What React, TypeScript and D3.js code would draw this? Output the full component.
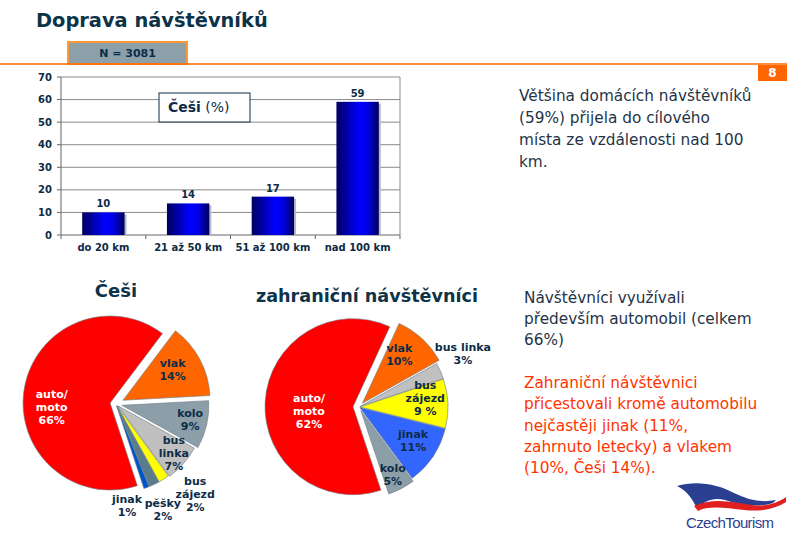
import * as d3 from 'd3';

// bar chart: Češi – vzdálenost
const barCategories = ['do 20 km', '21 až 50 km', '51 až 100 km', 'nad 100 km'];
const barValues = [10, 14, 17, 59];
const yTickValues = [0, 10, 20, 30, 40, 50, 60, 70];

// pie: Češi
const czNames = [['vlak'], ['kolo'], ['bus', 'linka'], ['bus', 'zájezd'], ['pěšky'], ['jinak'], ['auto/', 'moto']];
const czValues = [14, 9, 7, 2, 2, 1, 66];
const czPct = ['14%', '9%', '7%', '2%', '2%', '1%', '66%'];
const czColors = ['#FF6600', '#8C9EA8', '#C0C0C0', '#FFFF00', '#5B7C8A', '#0055CC', '#FF0000'];

// pie: zahraniční návštěvníci
const fgNames = [['vlak'], ['bus linka'], ['bus', 'zájezd'], ['jinak'], ['kolo'], ['auto/', 'moto']];
const fgValues = [10, 3, 9, 11, 5, 62];
const fgPct = ['10%', '3%', '9 %', '11%', '5%', '62%'];
const fgColors = ['#FF6600', '#C0C0C0', '#FFFF00', '#3366FF', '#8C9EA8', '#FF0000'];

const navy = '#0D2C47';
const font = 'DejaVu Sans, Verdana, sans-serif';

function Pie({ cx, cy, r, startDeg, values, colors, names, pcts, explode, labelR, labelTurn, whiteLast }: any) {
  const start = (startDeg * Math.PI) / 180;
  const arcs = d3.pie<number>().sort(null).value((d) => d).startAngle(start).endAngle(start + 2 * Math.PI)(values);
  const arc = d3.arc<d3.PieArcDatum<number>>().innerRadius(0).outerRadius(r);
  const lh = 13;
  return (
    <g transform={`translate(${cx},${cy})`}>
      {arcs.map((a, i) => {
        const mid = (a.startAngle + a.endAngle) / 2;
        const dx = Math.sin(mid) * explode[i];
        const dy = -Math.cos(mid) * explode[i];
        return (
          <path key={i} d={arc(a) ?? ''} transform={`translate(${dx},${dy})`} fill={colors[i]} stroke="#6b7a84" strokeWidth={0.6} strokeLinejoin="round" />
        );
      })}
      {arcs.map((a, i) => {
        const ang = (a.startAngle + a.endAngle) / 2 + (labelTurn[i] * Math.PI) / 180;
        const rr = labelR[i] * r;
        const x = Math.sin(ang) * rr;
        const y = -Math.cos(ang) * rr;
        const lines = [...names[i], pcts[i]];
        const y0 = y - ((lines.length - 1) * lh) / 2 + 4;
        const white = whiteLast && i === arcs.length - 1;
        return (
          <text key={i} textAnchor="middle" fontSize={11} fontWeight="bold" fontFamily={font} fill={white ? '#fff' : navy}>
            {lines.map((l, j) => (
              <tspan key={j} x={x} y={y0 + j * lh}>{l}</tspan>
            ))}
          </text>
        );
      })}
    </g>
  );
}

export default function App() {
  const x = d3.scaleBand().domain(barCategories).range([61, 400]).paddingInner(0.5).paddingOuter(0.25);
  const y = d3.scaleLinear().domain([0, 70]).range([235, 77]);
  const step = x.step();
  const bounds = d3.range(barCategories.length + 1).map((i) => 61 + i * step);

  return (
    <svg width={787} height={547} style={{ position: 'absolute', left: 0, top: 0, background: '#fff' }} fontFamily={font}>
      <defs>
        <linearGradient id="barGrad" x1="0" x2="1" y1="0" y2="0">
          <stop offset="0%" stopColor="#000060" />
          <stop offset="55%" stopColor="#0000FF" />
          <stop offset="75%" stopColor="#0000E0" />
          <stop offset="100%" stopColor="#000058" />
        </linearGradient>
      </defs>

      {/* header */}
      <text x={36} y={27} fontSize={19.4} fontWeight="bold" fill="#0D3349">Doprava návštěvníků</text>
      <rect x={68} y={42} width={119} height={22} fill="#8CA0AA" stroke="#FF9933" strokeWidth={2} />
      <text x={127.5} y={57} textAnchor="middle" fontSize={11} fontWeight="bold" fill={navy}>N = 3081</text>
      <line x1={0} x2={787} y1={64} y2={64} stroke="#FF6600" strokeWidth={1.5} />
      <rect x={758} y={65} width={29} height={16} fill="#FF6600" />
      <text x={772.5} y={77} textAnchor="middle" fontSize={12} fontWeight="bold" fill="#fff">8</text>

      {/* bar chart */}
      {yTickValues.map((t) => (
        <g key={t}>
          {t > 0 && <line x1={61} x2={400} y1={y(t)} y2={y(t)} stroke="#8a8a8a" strokeWidth={1} />}
          <line x1={57} x2={61} y1={y(t)} y2={y(t)} stroke="#666" />
          <text x={52} y={y(t) + 3.5} textAnchor="end" fontSize={10} fontWeight="bold" fill={navy}>{t}</text>
        </g>
      ))}
      <line x1={400} x2={400} y1={y(70)} y2={y(0)} stroke="#8a8a8a" />
      <line x1={61} x2={61} y1={y(70)} y2={y(0)} stroke="#666" />
      <line x1={61} x2={400} y1={y(0)} y2={y(0)} stroke="#666" />
      {bounds.map((b, i) => (
        <line key={i} x1={b} x2={b} y1={y(0)} y2={y(0) + 4} stroke="#666" />
      ))}
      {barCategories.map((c, i) => (
        <g key={c}>
          <rect x={x(c)! + 2} y={y(barValues[i]) + 2} width={x.bandwidth()} height={y(0) - y(barValues[i]) - 2} fill="#b8b8c8" />
          <rect x={x(c)} y={y(barValues[i])} width={x.bandwidth()} height={y(0) - y(barValues[i])} fill="url(#barGrad)" />
          <text x={x(c)! + x.bandwidth() / 2} y={y(barValues[i]) - 5} textAnchor="middle" fontSize={10} fontWeight="bold" fill={navy}>{barValues[i]}</text>
          <text x={x(c)! + x.bandwidth() / 2} y={251} textAnchor="middle" fontSize={10} fontWeight="bold" fill={navy}>{c}</text>
        </g>
      ))}
      <rect x={159} y={93} width={91} height={29} fill="#fff" stroke={navy} strokeWidth={1} />
      <text x={168} y={112} fontSize={14} fill={navy}>
        <tspan fontWeight="bold">Češi</tspan> (%)
      </text>

      {/* right texts */}
      <text fontSize={15.3} fill="#1F3347">
        {['Většina domácích návštěvníků', '(59%) přijela do cílového', 'místa ze vzdálenosti nad 100', 'km.'].map((l, i) => (
          <tspan key={i} x={519} y={101 + i * 22}>{l}</tspan>
        ))}
      </text>
      <text fontSize={15.3} fill="#1F3347">
        {['Návštěvníci využívali', 'především automobil (celkem', '66%)'].map((l, i) => (
          <tspan key={i} x={524} y={303 + i * 21}>{l}</tspan>
        ))}
      </text>
      <text fontSize={15.3} fill="#FF3300">
        {['Zahraniční návštěvnici', 'přicestovali kromě automobilu', 'nejčastěji jinak (11%,', 'zahrnuto letecky) a vlakem', '(10%, Češi 14%).'].map((l, i) => (
          <tspan key={i} x={524} y={388 + i * 21.3}>{l}</tspan>
        ))}
      </text>

      {/* pies */}
      <text x={116} y={297} textAnchor="middle" fontSize={18} fontWeight="bold" fill="#0D3349">Češi</text>
      <Pie cx={116} cy={404} r={87} startDeg={37} values={czValues} colors={czColors} names={czNames} pcts={czPct}
        explode={[8, 6, 3, 2, 2, 2, 6]}
        labelR={[0.76, 0.87, 0.87, 1.38, 1.33, 1.17, 0.74]}
        labelTurn={[-3, -1.5, -1.3, -8.8, 1.5, 13.8, -12]} whiteLast />
      <text x={367} y={302} textAnchor="middle" fontSize={17.6} fontWeight="bold" fill="#0D3349">zahraniční návštěvníci</text>
      <Pie cx={359} cy={407} r={88} startDeg={24.7} values={fgValues} colors={fgColors} names={fgNames} pcts={fgPct}
        explode={[5, 1, 1, 1, 4, 6]}
        labelR={[0.75, 1.33, 0.76, 0.72, 0.86, 0.57]}
        labelTurn={[-5, -3.5, -5.5, -2.3, 1, -7.7]} whiteLast />

      {/* CzechTourism logo */}
      <path d="M677,486 C696,480 718,484 734,493 C748,500 762,503 776,500 L773,503 C757,508 740,505 725,500 C713,497 704,501 697,509 C693,499 687,491 677,486 Z" fill="#2A3F8F" />
      <path d="M694,506 C712,497 734,502 752,505 C766,507 777,503 786,497 L786,502 C776,509 760,512 744,510 C726,508 709,505 698,511 Z" fill="#E02020" />
      <text x={686} y={528} fontSize={15} fontFamily="Liberation Sans, Arial, sans-serif" fill="#2E3F8F" textLength={88}>CzechTourism</text>
    </svg>
  );
}
